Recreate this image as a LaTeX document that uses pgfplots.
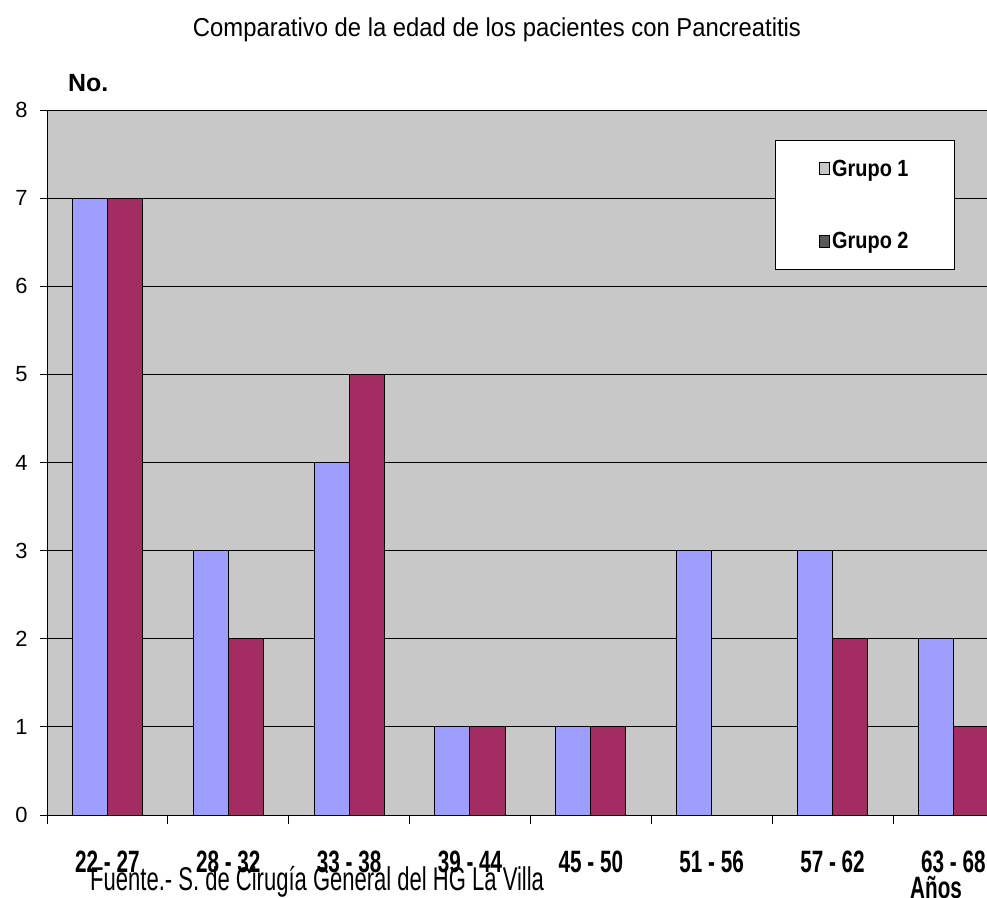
\documentclass[border=0pt]{standalone}
\usepackage{fontspec}
\setmainfont{Liberation Sans}
\newfontfamily\condA[FakeStretch=0.67]{Liberation Sans}
\newfontfamily\condL[FakeStretch=0.85]{Liberation Sans}
\newfontfamily\condT[FakeStretch=0.92]{Liberation Sans}
\usepackage{pgfplots}
\pgfplotsset{compat=1.18}
\definecolor{bggray}{RGB}{200,200,200}
\definecolor{gblue}{RGB}{158,158,255}
\definecolor{gmaroon}{RGB}{163,45,98}
\pgfplotstableread{
x g1 g2
0 7 7
1 3 2
2 4 5
3 1 1
4 1 1
5 3 0
6 3 2
7 2 1
}\datatab
\begin{document}
\begin{tikzpicture}
\begin{axis}[
  at={(47bp,83bp)}, anchor=south west,
  scale only axis, width=940bp, height=705bp,
  xmin=-0.5, xmax=7.278, ymin=0, ymax=8,
  axis lines*=left,
  axis line style={black, line width=0.9bp},
  axis background/.style={fill=bggray},
  ybar, bar width=0.29,
  xtick={0,...,7},
  xticklabels={22 - 27, 28 - 32, 33 - 38, 39 - 44, 45 - 50, 51 - 56, 57 - 62, 63 - 68},
  major x tick style={draw=none},
  minor xtick={-0.5,0.5,...,6.5},
  minor x tick style={black, line width=0.8bp},
  minor tick length=9bp,
  ytick={0,...,8},
  major tick length=7bp,
  ytick style={black, line width=0.8bp},
  tick align=outside,
  ymajorgrids,
  major grid style={black, line width=0.8bp},
  /pgf/number format/assume math mode=true,
  yticklabel style={font=\fontsize{22}{22}\selectfont, anchor=east, xshift=-9bp},
  xticklabel style={font=\condA\bfseries\fontsize{31}{31}\selectfont, anchor=base, yshift=-50bp},
  legend style={at={(rel axis cs:0.7745,0.957)}, anchor=north west,
    draw=black, fill=white, line width=0.8bp,
    font=\condL\bfseries\fontsize{23.5}{23.5}\selectfont,
    inner xsep=44bp, inner ysep=17bp, row sep=51bp,
    legend cell align=left},
  legend image code/.code={\draw[#1, line width=0.8bp] (0bp,-6bp) rectangle (10bp,6bp);},
]
\addplot[fill=gblue, draw=black, line width=1bp, bar shift=-0.145, forget plot] table[x=x, y=g1] {\datatab};
\addplot[fill=gmaroon, draw=black, line width=1bp, bar shift=0.145, forget plot] table[x=x, y=g2] {\datatab};
\addlegendimage{fill=gray!45, draw=black}
\addlegendentry{Grupo 1}
\addlegendimage{fill=gray!70!black, draw=black}
\addlegendentry{Grupo 2}
\end{axis}
\node[anchor=base, font=\condT\fontsize{26}{26}\selectfont] at (497bp,861bp) {Comparativo de la edad de los pacientes con Pancreatitis};
\node[anchor=base west, inner sep=0pt, font=\bfseries\fontsize{25}{25}\selectfont] at (68bp,806bp) {No.};
\node[anchor=base west, inner sep=0pt, font=\condA\fontsize{33}{33}\selectfont] at (90bp,8bp) {Fuente.- S. de Cirugía General del HG La Villa};
\node[anchor=base west, inner sep=0pt, font=\condA\bfseries\fontsize{31}{31}\selectfont] at (910bp,0bp) {Años};
\pgfresetboundingbox
\path[use as bounding box] (0,0) rectangle (987bp,898bp);
\end{tikzpicture}
\end{document}
